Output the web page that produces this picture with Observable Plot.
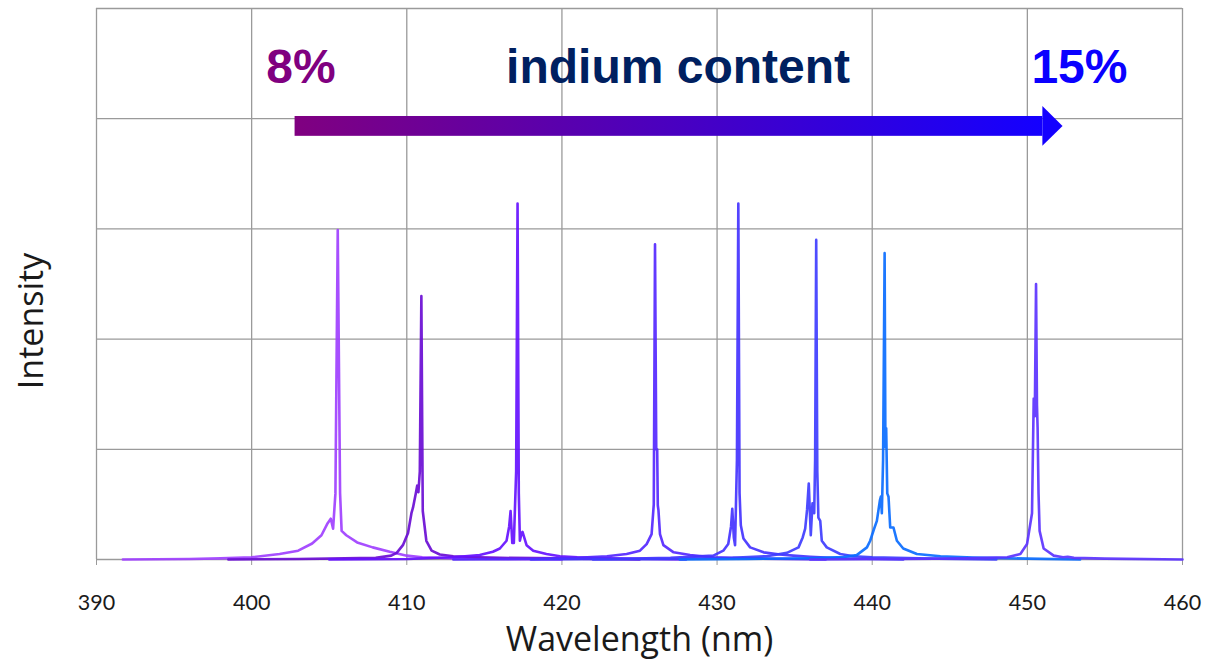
<!DOCTYPE html>
<html><head><meta charset="utf-8">
<script src="https://cdn.jsdelivr.net/npm/d3@7"></script>
<script src="https://cdn.jsdelivr.net/npm/@observablehq/plot@0.6"></script>
<style>
html,body{margin:0;padding:0;background:#fff;}
#chart{width:1216px;height:662px;overflow:hidden;}
</style></head><body><div id="chart"></div>
<script>
// Spectra: [wavelength (nm), intensity (arb. units, 1 = one grid step)]
const peak405 = [[391.7,0],[396,0.005],[398,0.01],[400,0.02],[401.8,0.05],[403,0.08],[403.9,0.145],[404.5,0.22],[404.9,0.33],[405.1,0.37],[405.25,0.28],[405.4,0.6],[405.55,2.99],[405.7,0.6],[405.8,0.26],[406.1,0.22],[406.8,0.155],[407.8,0.11],[408.9,0.07],[410,0.035],[411,0.02],[413,0.01],[420,0]];
const peak411 = [[398.5,0],[403,0.005],[406,0.01],[408,0.015],[409,0.035],[409.35,0.06],[409.75,0.13],[410.08,0.24],[410.3,0.42],[410.4,0.47],[410.58,0.6],[410.67,0.67],[410.75,0.61],[410.84,0.8],[410.94,2.39],[411.03,0.44],[411.26,0.17],[411.6,0.08],[412.13,0.045],[413,0.03],[414.7,0.02],[416,0.015],[420,0.01],[425,0]];
const peak417 = [[405,0],[410,0.005],[413,0.02],[414.7,0.04],[415.55,0.07],[416.0,0.1],[416.43,0.17],[416.6,0.3],[416.69,0.44],[416.8,0.15],[416.9,0.15],[417.05,0.8],[417.14,3.23],[417.22,0.6],[417.29,0.17],[417.4,0.24],[417.46,0.25],[417.72,0.13],[418.15,0.08],[419.0,0.05],[419.87,0.03],[421,0.02],[423,0.01],[428,0]];
const peak426 = [[413,0],[418,0.005],[421,0.015],[422.9,0.03],[424.17,0.05],[425.03,0.08],[425.46,0.14],[425.78,0.23],[425.92,0.5],[426.0,2.86],[426.08,1.0],[426.14,1.0],[426.18,0.49],[426.22,0.45],[426.32,0.23],[426.54,0.13],[427.2,0.065],[428.26,0.04],[429.7,0.02],[432,0.01],[437,0]];
const peak431 = [[418,0],[423,0.005],[427,0.015],[429.76,0.035],[430.4,0.08],[430.72,0.14],[430.9,0.3],[430.98,0.46],[431.08,0.2],[431.16,0.13],[431.28,0.9],[431.37,3.23],[431.45,0.6],[431.53,0.31],[431.7,0.19],[432.13,0.11],[433.0,0.065],[434.06,0.045],[434.9,0.035],[436,0.025],[438,0.012],[442,0]];
const peak436 = [[422,0],[427,0.005],[431,0.015],[433.2,0.03],[434.5,0.06],[435.25,0.11],[435.52,0.2],[435.68,0.28],[435.8,0.45],[435.91,0.69],[436.04,0.22],[436.15,0.51],[436.26,0.42],[436.32,0.9],[436.39,2.9],[436.46,0.8],[436.53,0.38],[436.65,0.35],[436.75,0.17],[437.07,0.11],[437.94,0.05],[438.8,0.03],[440,0.02],[443,0.01],[448,0]];
const peak441 = [[427.6,0],[432,0.005],[436,0.012],[438.15,0.022],[439.0,0.04],[439.66,0.11],[439.87,0.17],[440.1,0.27],[440.3,0.35],[440.5,0.54],[440.56,0.57],[440.62,0.42],[440.7,0.9],[440.8,2.78],[440.85,1.02],[440.9,1.19],[440.97,0.6],[441.05,0.57],[441.16,0.29],[441.37,0.29],[441.59,0.17],[442.0,0.1],[442.88,0.05],[444.4,0.03],[446.5,0.018],[450,0.008],[453.4,0]];
const peak451 = [[436,0],[442,0.005],[446,0.01],[448.7,0.02],[449.55,0.05],[449.98,0.14],[450.3,0.42],[450.41,1.46],[450.48,1.3],[450.56,2.5],[450.62,1.4],[450.66,1.2],[450.72,0.6],[450.79,0.26],[451.05,0.1],[451.7,0.035],[452.3,0.02],[452.6,0.025],[453,0.015],[455,0.008],[460,0]];

const seriesNames = ["405","411","417","426","431","436","441","451"];
const seriesColors = ["#a040ff","#6a0dd4","#6611ff","#5528ff","#4433ff","#3f3dff","#0a6cff","#5c33ff"];
const xTicks = [390,400,410,420,430,440,450,460];
const yTicks = [0,1,2,3,4,5];

// Annotation (indium content arrow) in data units
const arrowBar = [{x1:402.8, x2:451.0, y1:3.84, y2:4.02}];
const arrowHead = [{x:451.0, lo:3.75, hi:4.11},{x:452.3, lo:3.93, hi:3.93}];
const annotText = ["8%","indium content","15%"];
const annotX = [400.94, 416.4, 450.26];
const annotY = [4.32, 4.32, 4.32];
const annotColor = ["#800080","#002060","#0a00ff"];

const spectra = [peak405, peak411, peak417, peak426, peak431, peak436, peak441, peak451];
const rows = spectra.flatMap((s, i) => s.map(([wl, v]) => ({series: seriesNames[i], wl, v})));

const gridStyle = {stroke:"#9a9a9a", strokeOpacity:1, strokeWidth:1.3};
const titleFont = "'Open Sans', Lato, sans-serif";

const plot = Plot.plot({
  width:1216, height:662,
  marginLeft:96, marginRight:34, marginTop:8, marginBottom:103,
  style:{fontFamily:"Lato, 'Open Sans', sans-serif", background:"#fff", overflow:"visible"},
  x:{domain:[390,460]},
  y:{domain:[0,5], axis:null},
  color:{domain:seriesNames, range:seriesColors},
  marks:[
    Plot.gridX({ticks:xTicks, ...gridStyle}),
    Plot.gridY({ticks:yTicks, ...gridStyle}),
    Plot.axisX({ticks:xTicks, tickSize:6, tickPadding:29, stroke:"#9a9a9a", fill:"#1a1a1a", fontSize:21.5, label:null, tickFormat:d=>String(d)}),
    Plot.line(rows, {x:"wl", y:"v", z:"series", stroke:"series", strokeWidth:2.6, strokeOpacity:0.92}),
    Plot.rect(arrowBar, {x1:"x1", x2:"x2", y1:"y1", y2:"y2", fill:"url(#arrowGrad)"}),
    Plot.areaY(arrowHead, {x:"x", y1:"lo", y2:"hi", fill:"#1400ff"}),
    ...annotText.map((t, i) => Plot.text([i], {x:d=>annotX[d], y:d=>annotY[d], text:d=>annotText[d], fill:annotColor[i], fontSize:48, fontWeight:"bold", fontFamily:"'Liberation Sans', Arial, sans-serif", textAnchor:"start", lineAnchor:"bottom"})),
    Plot.text(["Wavelength (nm)"], {frameAnchor:"bottom", dy:81, text:d=>d, fontSize:34, fontFamily:titleFont, textAnchor:"middle", lineAnchor:"middle", fill:"#1a1a1a"}),
    Plot.text(["Intensity"], {frameAnchor:"left", dx:-64, dy:37, rotate:-90, text:d=>d, fontSize:34, fontFamily:titleFont, textAnchor:"middle", lineAnchor:"middle", fill:"#1a1a1a"})
  ]
});

// gradient definition for the arrow bar
const svg = d3.select(plot);
const defs = svg.insert("defs", ":first-child");
const grad = defs.append("linearGradient").attr("id","arrowGrad").attr("x1","0%").attr("x2","100%").attr("y1","0%").attr("y2","0%");
grad.append("stop").attr("offset","0%").attr("stop-color","#800080");
grad.append("stop").attr("offset","100%").attr("stop-color","#1400ff");

document.getElementById("chart").appendChild(plot);
</script>
</body></html>
